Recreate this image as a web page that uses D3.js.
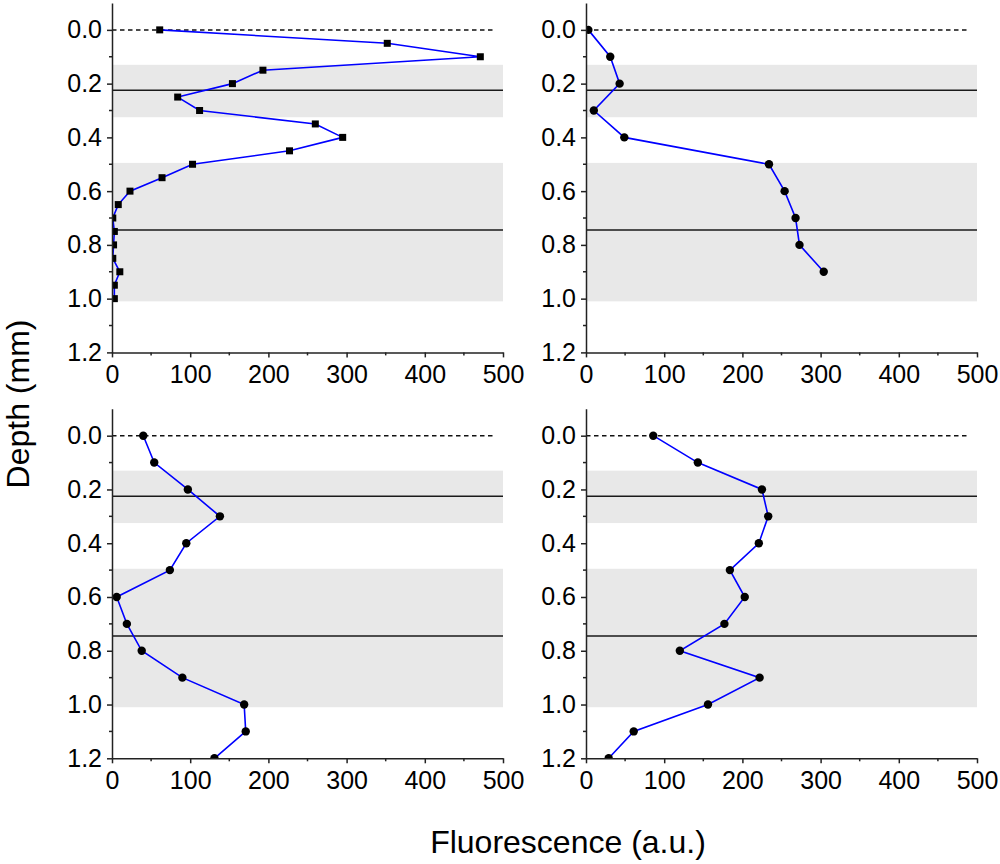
<!DOCTYPE html>
<html>
<head>
<meta charset="utf-8">
<script src="https://cdn.jsdelivr.net/npm/d3@7"></script>
<style>
  html, body { margin: 0; padding: 0; background: #fff; }
  svg { display: block; font-family: "Liberation Sans", Arial, sans-serif; }
</style>
</head>
<body>
<div id="chart"></div>
<script>
// depth profiles of fluorescence, four panels

// top-left panel (square markers, 0.05 mm steps)
const depthTL = [0.00, 0.05, 0.10, 0.15, 0.20, 0.25, 0.30, 0.35, 0.40, 0.45, 0.50,
                 0.55, 0.60, 0.65, 0.70, 0.75, 0.80, 0.85, 0.90, 0.95, 1.00];
const fluoTL = [61, 352, 471, 193, 154, 84, 112, 260, 295, 227, 103,
                64, 23, 8, 1, 3, 2, 1, 10, 3, 3];

// top-right panel
const depthTR = [0.0, 0.1, 0.2, 0.3, 0.4, 0.5, 0.6, 0.7, 0.8, 0.9];
const fluoTR = [3, 31, 43, 10, 49, 234, 254, 268, 273, 304];

// bottom-left panel
const depthBL = [0.0, 0.1, 0.2, 0.3, 0.4, 0.5, 0.6, 0.7, 0.8, 0.9, 1.0, 1.1, 1.2];
const fluoBL = [40, 54, 97, 138, 95, 74, 6, 19, 38, 90, 169, 171, 131];

// bottom-right panel
const depthBR = [0.0, 0.1, 0.2, 0.3, 0.4, 0.5, 0.6, 0.7, 0.8, 0.9, 1.0, 1.1, 1.2];
const fluoBR = [86, 143, 225, 233, 221, 184, 203, 177, 120, 222, 156, 61, 29];

// shaded layers and boundary lines (depth, mm)
const bands = [[0.13, 0.325], [0.495, 1.01]];
const boundaries = [0.225, 0.745];

const yTicks = [0.0, 0.2, 0.4, 0.6, 0.8, 1.0, 1.2];
const yMinor = [0.1, 0.3, 0.5, 0.7, 0.9, 1.1];
const xTicks = [0, 100, 200, 300, 400, 500];
const xMinor = [50, 150, 250, 350, 450];

const width = 1000, height = 864;

const svg = d3.select("#chart").append("svg")
    .attr("width", width)
    .attr("height", height);

const panels = [
    { id: "tl", depth: depthTL, fluo: fluoTL, marker: "square", x0: 112, x1: 503, y0: 3, y1: 352.4 },
    { id: "tr", depth: depthTR, fluo: fluoTR, marker: "circle", x0: 586, x1: 977, y0: 3, y1: 352.4 },
    { id: "bl", depth: depthBL, fluo: fluoBL, marker: "circle", x0: 112, x1: 503, y0: 408.8, y1: 758.3 },
    { id: "br", depth: depthBR, fluo: fluoBR, marker: "circle", x0: 586, x1: 977, y0: 408.8, y1: 758.3 }
];

panels.forEach(p => {
    const x = d3.scaleLinear().domain([0, 500]).range([p.x0, p.x1]);
    const y = d3.scaleLinear().domain([-0.1, 1.2]).range([p.y0, p.y1]);
    const g = svg.append("g");

    g.append("clipPath").attr("id", "clip-" + p.id)
      .append("rect")
        .attr("x", x(0)).attr("y", y(-0.1))
        .attr("width", x(500) - x(0)).attr("height", y(1.2) - y(-0.1));

    // grey layers
    g.selectAll(".band").data(bands).enter().append("rect")
        .attr("class", "band")
        .attr("x", x(0))
        .attr("width", x(500) - x(0))
        .attr("y", d => y(d[0]))
        .attr("height", d => y(d[1]) - y(d[0]))
        .attr("fill", "#e8e8e8");

    // layer boundaries
    g.selectAll(".bound").data(boundaries).enter().append("line")
        .attr("x1", x(0)).attr("x2", x(500))
        .attr("y1", d => y(d)).attr("y2", d => y(d))
        .attr("stroke", "#1a1a1a")
        .attr("stroke-width", 1.5);

    // surface
    g.append("line")
        .attr("x1", x(0)).attr("x2", x(490))
        .attr("y1", y(0)).attr("y2", y(0))
        .attr("stroke", "#111")
        .attr("stroke-width", 1.5)
        .attr("stroke-dasharray", "4.5,3.5");

    const pts = p.depth.map((d, i) => ({ depth: d, fluo: p.fluo[i] }));
    const data = g.append("g").attr("clip-path", `url(#clip-${p.id})`);

    data.append("path")
        .datum(pts)
        .attr("fill", "none")
        .attr("stroke", "#0000ff")
        .attr("stroke-width", 1.6)
        .attr("d", d3.line().x(d => x(d.fluo)).y(d => y(d.depth)));

    if (p.marker === "square") {
        data.selectAll(".pt").data(pts).enter().append("rect")
            .attr("x", d => x(d.fluo) - 3.5)
            .attr("y", d => y(d.depth) - 3.5)
            .attr("width", 7).attr("height", 7)
            .attr("fill", "#000");
    } else {
        data.selectAll(".pt").data(pts).enter().append("circle")
            .attr("cx", d => x(d.fluo))
            .attr("cy", d => y(d.depth))
            .attr("r", 4.2)
            .attr("fill", "#000");
    }

    // axes
    const yAxis = g.append("g")
        .attr("transform", `translate(${x(0)},0)`)
        .call(d3.axisLeft(y).tickValues(yTicks).tickFormat(d3.format(".1f"))
            .tickSize(5).tickSizeOuter(0).tickPadding(5));
    yAxis.selectAll(".minor").data(yMinor).enter().append("line")
        .attr("x1", 0).attr("x2", -3)
        .attr("y1", d => y(d)).attr("y2", d => y(d))
        .attr("stroke", "#222").attr("stroke-width", 1.5);

    const xAxis = g.append("g")
        .attr("transform", `translate(0,${y(1.2)})`)
        .call(d3.axisBottom(x).tickValues(xTicks)
            .tickSize(5).tickSizeOuter(0).tickPadding(8));
    xAxis.selectAll(".minor").data(xMinor).enter().append("line")
        .attr("x1", d => x(d)).attr("x2", d => x(d))
        .attr("y1", 0).attr("y2", 3)
        .attr("stroke", "#222").attr("stroke-width", 1.5);

    [yAxis, xAxis].forEach(a => {
        a.select(".domain").attr("stroke", "#222").attr("stroke-width", 1.5);
        a.selectAll(".tick line").attr("stroke", "#222").attr("stroke-width", 1.5);
        a.selectAll("text")
            .attr("fill", "#000")
            .style("font-size", "25px")
            .style("font-family", "'Liberation Sans', Arial, sans-serif");
    });
});

// shared axis titles
svg.append("text")
    .attr("x", 568)
    .attr("y", 853)
    .attr("text-anchor", "middle")
    .style("font-size", "32px")
    .text("Fluorescence (a.u.)");

svg.append("text")
    .attr("transform", "translate(29,404) rotate(-90)")
    .attr("text-anchor", "middle")
    .style("font-size", "32px")
    .text("Depth (mm)");
</script>
</body>
</html>
